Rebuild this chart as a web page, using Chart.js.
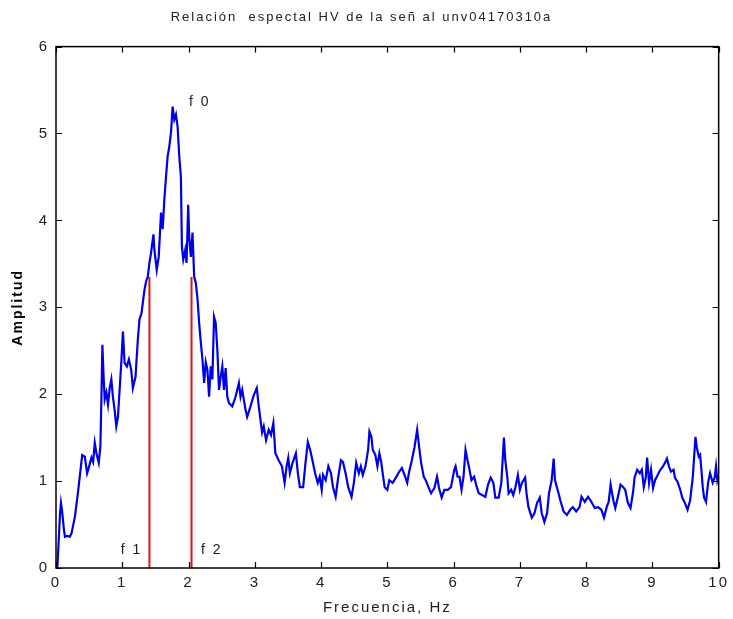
<!DOCTYPE html>
<html>
<head>
<meta charset="utf-8">
<script src="https://cdn.jsdelivr.net/npm/chart.js@4"></script>
<style>
  html, body { margin: 0; padding: 0; background: #fff; }
  #chart { display: block; }
</style>
</head>
<body>
<canvas id="chart" width="733" height="619"></canvas>
<script>
// HV spectral ratio
const freq = [0.00,0.02,0.04,0.06,0.075,0.09,0.12,0.135,0.17,0.21,0.235,0.285,0.33,0.37,0.395,0.435,0.47,0.50,0.535,0.56,0.585,0.61,0.645,0.67,0.685,0.70,0.72,0.735,0.76,0.785,0.81,0.835,0.86,0.885,0.91,0.935,0.96,0.985,1.01,1.035,1.07,1.10,1.135,1.16,1.20,1.235,1.26,1.29,1.31,1.335,1.36,1.385,1.41,1.435,1.47,1.485,1.52,1.55,1.585,1.61,1.635,1.66,1.685,1.71,1.735,1.76,1.785,1.81,1.835,1.86,1.885,1.90,1.92,1.95,1.97,1.995,2.01,2.035,2.06,2.085,2.11,2.135,2.16,2.185,2.21,2.235,2.26,2.285,2.31,2.335,2.36,2.385,2.41,2.435,2.46,2.485,2.51,2.535,2.56,2.585,2.61,2.66,2.71,2.76,2.785,2.81,2.86,2.885,2.935,2.985,3.03,3.06,3.11,3.135,3.17,3.21,3.245,3.28,3.31,3.36,3.41,3.45,3.48,3.505,3.53,3.57,3.62,3.65,3.68,3.73,3.765,3.80,3.835,3.87,3.91,3.95,3.98,4.01,4.03,4.07,4.11,4.15,4.18,4.22,4.26,4.30,4.33,4.37,4.41,4.46,4.495,4.53,4.57,4.60,4.63,4.67,4.71,4.73,4.76,4.78,4.82,4.85,4.88,4.91,4.93,4.96,5.00,5.03,5.08,5.13,5.18,5.22,5.26,5.30,5.33,5.37,5.41,5.45,5.48,5.51,5.55,5.58,5.62,5.66,5.71,5.75,5.78,5.82,5.86,5.91,5.96,6.01,6.03,6.06,6.09,6.12,6.15,6.18,6.21,6.23,6.27,6.31,6.35,6.38,6.43,6.48,6.52,6.56,6.60,6.63,6.68,6.72,6.74,6.76,6.78,6.81,6.83,6.87,6.90,6.93,6.97,7.00,7.03,7.08,7.10,7.13,7.18,7.22,7.26,7.30,7.33,7.37,7.41,7.44,7.48,7.51,7.53,7.57,7.61,7.66,7.71,7.76,7.80,7.85,7.90,7.93,7.98,8.03,8.08,8.13,8.18,8.23,8.27,8.31,8.34,8.37,8.41,8.44,8.48,8.52,8.56,8.59,8.63,8.67,8.71,8.73,8.77,8.81,8.84,8.87,8.90,8.92,8.95,8.98,9.01,9.04,9.08,9.12,9.16,9.19,9.22,9.25,9.28,9.32,9.34,9.38,9.42,9.45,9.49,9.53,9.57,9.61,9.63,9.65,9.67,9.70,9.72,9.74,9.76,9.78,9.81,9.84,9.87,9.91,9.94,9.96,9.98,10.00];
const amp = [0.00,0.00,0.30,0.62,0.75,0.67,0.44,0.36,0.37,0.36,0.40,0.59,0.86,1.13,1.30,1.28,1.09,1.17,1.27,1.22,1.44,1.32,1.21,1.40,1.94,2.57,2.17,1.94,2.02,1.88,2.07,2.17,1.96,1.82,1.63,1.74,2.05,2.36,2.72,2.36,2.32,2.40,2.28,2.07,2.20,2.63,2.86,2.93,3.05,3.20,3.30,3.35,3.51,3.63,3.84,3.66,3.43,3.58,4.09,3.90,4.24,4.50,4.74,4.85,5.01,5.31,5.16,5.22,5.08,4.74,4.50,3.70,3.55,3.66,3.51,4.18,3.81,3.58,3.86,3.35,3.28,3.10,2.82,2.60,2.40,2.13,2.37,2.28,1.97,2.32,2.17,2.89,2.82,2.51,2.05,2.20,2.32,2.05,2.30,1.97,1.90,1.86,1.97,2.13,1.97,2.05,1.82,1.74,1.86,1.99,2.07,1.86,1.56,1.63,1.47,1.59,1.53,1.67,1.32,1.24,1.17,0.98,1.17,1.27,1.09,1.21,1.32,1.09,0.93,0.93,1.21,1.45,1.36,1.24,1.09,0.98,1.05,0.90,1.07,1.01,1.17,1.09,0.93,0.82,1.05,1.24,1.22,1.09,0.93,0.82,0.98,1.21,1.09,1.17,1.07,1.17,1.36,1.57,1.51,1.36,1.30,1.17,1.32,1.21,1.09,0.93,0.90,1.01,0.98,1.04,1.11,1.15,1.07,0.98,1.11,1.24,1.39,1.59,1.39,1.21,1.05,1.01,0.93,0.86,0.92,1.05,0.92,0.81,0.90,0.90,0.93,1.13,1.17,1.05,1.05,0.90,1.05,1.36,1.24,1.17,1.01,1.05,0.93,0.86,0.84,0.82,0.96,1.04,0.98,0.81,0.81,0.98,1.24,1.50,1.24,1.05,0.86,0.90,0.84,0.92,1.07,0.90,0.98,1.04,0.86,0.70,0.58,0.63,0.75,0.81,0.63,0.53,0.63,0.86,1.01,1.26,1.01,0.90,0.78,0.65,0.61,0.67,0.70,0.65,0.70,0.82,0.76,0.82,0.76,0.69,0.70,0.67,0.58,0.70,0.76,0.96,0.78,0.69,0.82,0.96,0.93,0.90,0.75,0.69,0.88,1.04,1.13,1.09,1.13,0.93,1.04,1.27,0.98,1.13,0.92,1.01,1.07,1.13,1.17,1.21,1.26,1.17,1.11,1.13,1.04,0.99,0.90,0.81,0.75,0.67,0.78,1.05,1.28,1.51,1.39,1.28,1.30,1.13,0.93,0.81,0.76,0.98,1.09,0.98,1.04,1.17,1.01,1.07];

// band limits f1 / f2 (red lines) and their height
const bandFreq = [1.41, 2.045];
const bandTop = 3.35;

// peak labels
const markLabels = ["f 0", "f 1", "f 2"];
const markX = [2.17, 1.14, 2.35];
const markY = [5.36, 0.21, 0.21];

const xTicks = [0, 1, 2, 3, 4, 5, 6, 7, 8, 9, 10];
const yTicks = [0, 1, 2, 3, 4, 5, 6];

const FONT = "'Liberation Sans', Arial, sans-serif";
const TEXT = "#222";

// spaced out text like the original screen font
const spacing = {
  id: "spacing",
  beforeDraw(chart) {
    chart.ctx.letterSpacing = "2px";
  }
};

// matlab style box with inward ticks, plus the f labels
const boxTicks = {
  id: "boxTicks",
  afterDatasetsDraw(chart) {
    const { ctx, chartArea: a, scales } = chart;
    const sx = scales.x, sy = scales.y;
    ctx.save();
    ctx.strokeStyle = "#000";
    ctx.lineWidth = 1.5;
    ctx.strokeRect(a.left, a.top, a.right - a.left, a.bottom - a.top);
    ctx.lineWidth = 1.2;
    ctx.beginPath();
    xTicks.forEach(v => {
      const px = Math.round(sx.getPixelForValue(v)) + 0.5;
      ctx.moveTo(px, a.bottom); ctx.lineTo(px, a.bottom - 6);
      ctx.moveTo(px, a.top); ctx.lineTo(px, a.top + 6);
    });
    yTicks.forEach(v => {
      const py = Math.round(sy.getPixelForValue(v)) + 0.5;
      ctx.moveTo(a.left, py); ctx.lineTo(a.left + 6, py);
      ctx.moveTo(a.right, py); ctx.lineTo(a.right - 6, py);
    });
    ctx.stroke();

    ctx.fillStyle = TEXT;
    ctx.font = "14px " + FONT;
    ctx.letterSpacing = "2px";
    ctx.textAlign = "center";
    ctx.textBaseline = "middle";
    markLabels.forEach((t, i) => {
      ctx.fillText(t, sx.getPixelForValue(markX[i]), sy.getPixelForValue(markY[i]));
    });
    ctx.restore();
  }
};

const datasets = [{
  data: freq.map((f, i) => ({ x: f, y: amp[i] })),
  borderColor: "#0000e6",
  borderWidth: 2.2,
  pointRadius: 0,
  showLine: true,
  tension: 0
}];
bandFreq.forEach(f => {
  datasets.push({
    data: [{ x: f, y: 0 }, { x: f, y: bandTop }],
    borderColor: "#dd1111",
    borderWidth: 2,
    pointRadius: 0,
    showLine: true
  });
});

new Chart(document.getElementById("chart"), {
  type: "scatter",
  data: { datasets: datasets },
  options: {
    responsive: false,
    animation: false,
    layout: { padding: { left: 0, right: 10, top: 0, bottom: 0 } },
    plugins: {
      legend: { display: false },
      tooltip: { enabled: false },
      title: {
        display: true,
        text: "Relación  espectal HV de la señ al unv04170310a",
        color: TEXT,
        font: { family: FONT, size: 13, weight: "normal" },
        padding: { top: 10, bottom: 21 }
      }
    },
    scales: {
      x: {
        type: "linear",
        min: 0,
        max: 10,
        afterFit(s) { s.height = 51; },
        afterBuildTicks(s) { s.ticks = xTicks.map(v => ({ value: v })); },
        grid: { display: false, drawTicks: false },
        border: { display: false },
        ticks: { color: TEXT, font: { family: FONT, size: 15 }, padding: 6, maxRotation: 0 },
        title: {
          display: true,
          text: "Frecuencia, Hz",
          color: TEXT,
          font: { family: FONT, size: 15 },
          padding: { top: 0, bottom: 2 }
        }
      },
      y: {
        min: 0,
        max: 6,
        afterFit(s) { s.width = 56; },
        afterBuildTicks(s) { s.ticks = yTicks.map(v => ({ value: v })); },
        grid: { display: false, drawTicks: false },
        border: { display: false },
        ticks: { color: TEXT, font: { family: FONT, size: 15 }, padding: 7 },
        title: {
          display: true,
          text: "Amplitud",
          color: "#000",
          font: { family: FONT, size: 14, weight: "bold" },
          padding: { top: 10, bottom: 0 }
        }
      }
    }
  },
  plugins: [spacing, boxTicks]
});
</script>
</body>
</html>
